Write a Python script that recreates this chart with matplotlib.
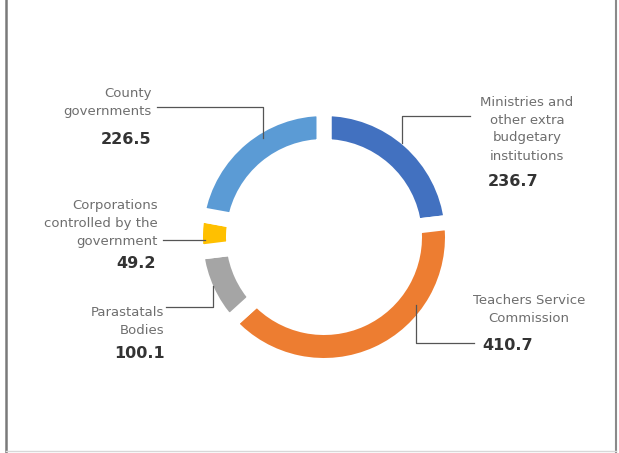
import matplotlib.pyplot as plt

plt.rcParams['font.family'] = ['DejaVu Sans']

# spending by institution
categories = ['Ministries and\nother extra\nbudgetary\ninstitutions',
              'Teachers Service\nCommission',
              'Parastatals\nBodies',
              'Corporations\ncontrolled by the\ngovernment',
              'County\ngovernments']
values = [236.7, 410.7, 100.1, 49.2, 226.5]
colors = ['#4271C0', '#ED7D31', '#A5A5A5', '#FFC000', '#5B9BD5']

W, H = 619, 453


def py(y):
    # pixel row from the top -> data y
    return H - y


fig = plt.figure(figsize=(W / 100, H / 100), dpi=100)
ax = fig.add_axes([0, 0, 1, 1])

gap = 15  # white gap between segments, px
ax.pie(values, colors=colors, startangle=90, counterclock=False,
       center=(324, py(237)), radius=121 + gap / 2,
       wedgeprops=dict(width=23 + gap, edgecolor='white',
                       linewidth=gap * 0.72, joinstyle='miter'))

ax.set_xlim(0, W)
ax.set_ylim(0, H)
ax.set_aspect('equal')
ax.axis('off')

lab = dict(fontsize=9.5, color='#6e6e6e', linespacing=1.5)
val = dict(fontsize=11.5, color='#333333', fontweight='bold')
lead = dict(color='#555555', lw=0.9, zorder=5)

# Ministries
ax.text(527, py(129), categories[0], ha='center', va='center', **lab)
ax.text(488, py(182), f'{values[0]}', ha='left', va='center', **val)
ax.plot([470, 402, 402], [py(116), py(116), py(143)], **lead)

# Teachers Service Commission
ax.text(529, py(310), categories[1], ha='center', va='center', **lab)
ax.text(482, py(345), f'{values[1]}', ha='left', va='center', **val)
ax.plot([474, 416, 416], [py(343), py(343), py(305)], **lead)

# Parastatals
ax.text(164, py(322), categories[2], ha='right', va='center',
        multialignment='right', **lab)
ax.text(165, py(353), f'{values[2]}', ha='right', va='center', **val)
ax.plot([166, 213, 213], [py(307), py(307), py(286)], **lead)

# Corporations
ax.text(158, py(223), categories[3], ha='right', va='center',
        multialignment='right', **lab)
ax.text(156, py(263), f'{values[3]}', ha='right', va='center', **val)
ax.plot([163, 205], [py(240), py(240)], **lead)

# County governments
ax.text(152, py(102), categories[4], ha='right', va='center',
        multialignment='right', **lab)
ax.text(151, py(139), f'{values[4]}', ha='right', va='center', **val)
ax.plot([157, 263, 263], [py(107), py(107), py(138)], **lead)

# frame around the panel
ax.plot([6, 6], [0, H], color='#7a7a7a', lw=1.8, zorder=6)
ax.plot([616, 616], [0, H], color='#8a8a8a', lw=1.5, zorder=6)
ax.plot([6, 616], [py(451), py(451)], color='#d8d8d8', lw=1.0, zorder=6)

fig.savefig('out.png', dpi=100)
